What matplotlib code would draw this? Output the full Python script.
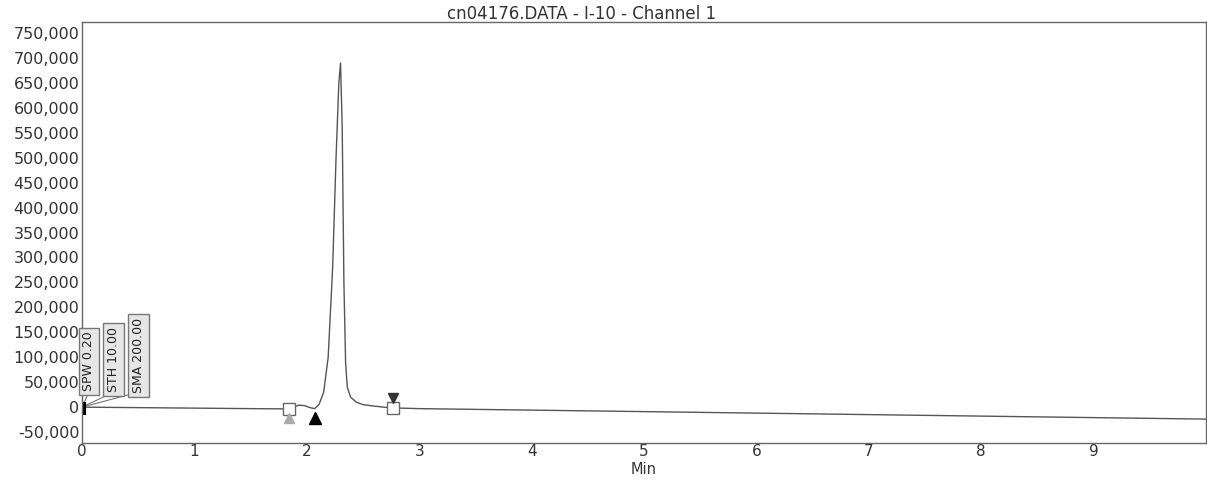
import matplotlib
matplotlib.use("Agg")
import matplotlib.pyplot as plt
from matplotlib.ticker import FuncFormatter

plt.rcParams['font.family'] = ['DejaVu Sans']

title = "cn04176.DATA - I-10 - Channel 1"
time_min = [0.0, 0.5, 1.0, 1.5, 1.80, 1.88, 1.93, 1.98, 2.03, 2.07, 2.11, 2.15, 2.19,
            2.23, 2.26, 2.285, 2.30, 2.315, 2.33, 2.345, 2.36, 2.39, 2.44, 2.50,
            2.60, 2.75, 3.0, 4.0, 5.0, 6.0, 7.0, 8.0, 9.0, 10.0]
signal = [0, -1000, -2000, -3000, -3500, 0, 4000, 3000, -1000, -3000, 6000, 30000, 100000,
          280000, 500000, 650000, 690000, 560000, 250000, 90000, 40000, 20000, 10000, 5000,
          2000, -1500, -3000, -6000, -9000, -12000, -15000, -18000, -21000, -24000]
y_ticks = [-50000, 0, 50000, 100000, 150000, 200000, 250000, 300000, 350000,
           400000, 450000, 500000, 550000, 600000, 650000, 700000, 750000]
x_ticks = [0, 1, 2, 3, 4, 5, 6, 7, 8, 9]
event_labels = ["SPW 0.20", "STH 10.00", "SMA 200.00"]
peak_start, peak_apex_valley, peak_end = 1.84, 2.07, 2.77

fig = plt.figure(figsize=(12.07, 4.8), dpi=100)
ax = fig.add_axes([0.068, 0.077, 0.931, 0.877])
line_col = '#555555'
ax.plot(time_min, signal, color=line_col, lw=1.0)
ax.set_xlim(0, 10)
ax.set_ylim(-72000, 772000)
ax.set_yticks(y_ticks)
ax.set_xticks(x_ticks)
ax.yaxis.set_major_formatter(FuncFormatter(lambda v, p: "0" if v == 0 else f"{int(v):,}"))
ax.tick_params(axis='y', length=0, labelsize=11.5, colors='#333333', pad=2)
ax.tick_params(axis='x', length=0, labelsize=11, colors='#333333', pad=1)
for s in ax.spines.values():
    s.set_color('#666666')
    s.set_linewidth(1.0)
fig.text(582 / 1207, 1 - 14 / 480, title, ha='center', va='center',
         fontsize=12, color='#333333')
ax.set_xlabel("Min", fontsize=10.5, color='#333333', labelpad=2)

# integration event labels
label_x = [0.06, 0.28, 0.50]
label_y = [92000, 95000, 103000]
for lx, ly, txt in zip(label_x, label_y, event_labels):
    ax.text(lx, ly, txt, rotation=90, ha='center', va='center', fontsize=9,
            color='#222222',
            bbox=dict(boxstyle='square,pad=0.3', fc='#e6e6e6', ec='#777777', lw=1))
    ax.plot([0.0, lx], [0, 30000], color='#777777', lw=0.8)
ax.plot([0.02, 0.02], [-15000, 10000], color='black', lw=3, solid_capstyle='butt')

# peak markers
ax.plot([peak_start], [-3000], marker='s', ms=9, mfc='white', mec='#666666', mew=1)
ax.plot([peak_start], [-22000], marker='^', ms=7, color='#aaaaaa')
ax.plot([peak_apex_valley], [-22000], marker='^', ms=8, color='black')
ax.plot([peak_end], [-2000], marker='s', ms=9, mfc='white', mec='#666666', mew=1)
ax.plot([peak_end], [18000], marker='v', ms=7, color='#333333')

fig.savefig("out.png", dpi=100, facecolor='white')
